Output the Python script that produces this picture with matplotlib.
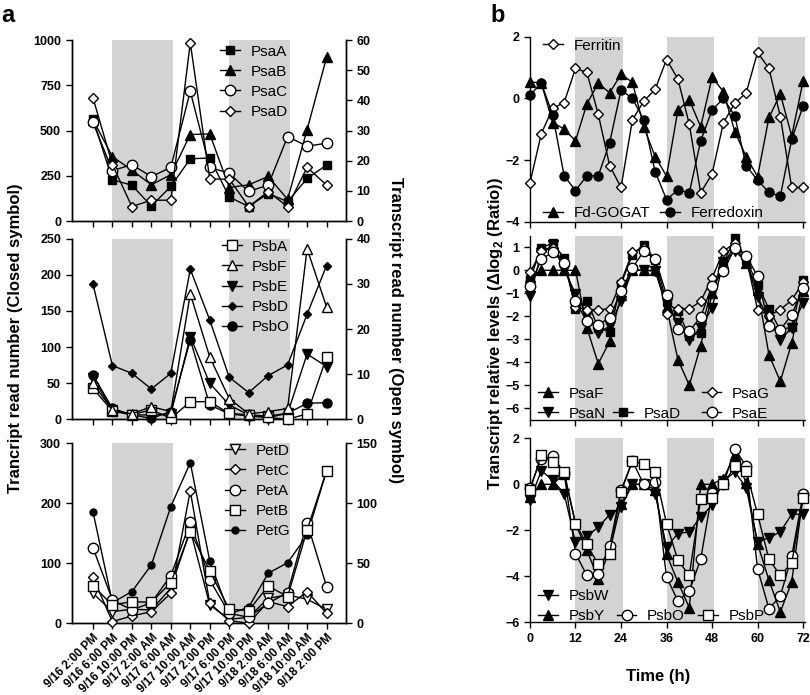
import matplotlib
matplotlib.use('Agg')
import matplotlib.pyplot as plt
from matplotlib.lines import Line2D
from matplotlib.legend import Legend

plt.rcParams['font.family'] = ['Liberation Sans', 'DejaVu Sans']
plt.rcParams['font.weight'] = 'bold'
plt.rcParams['mathtext.fontset'] = 'custom'
plt.rcParams['mathtext.rm'] = 'Liberation Sans:bold'
plt.rcParams['mathtext.bf'] = 'Liberation Sans:bold'
plt.rcParams['axes.linewidth'] = 1.0

# ---------------- panel a data (13 sampling times) ----------------
times = ['9/16 2:00 PM', '9/16 6:00 PM', '9/16 10:00 PM', '9/17 2:00 AM', '9/17 6:00 AM',
         '9/17 10:00 AM', '9/17 2:00 PM', '9/17 6:00 PM', '9/17 10:00 PM', '9/18 2:00 AM',
         '9/18 6:00 AM', '9/18 10:00 AM', '9/18 2:00 PM']

# closed symbols -> left axis, open symbols -> right axis
psaA = [565, 228, 198, 83, 191, 344, 348, 133, 80, 152, 107, 235, 309]
psaB = [560, 356, 281, 200, 256, 478, 481, 185, 200, 246, 120, 505, 904]
psaC = [32.7, 16.7, 18.7, 14.7, 17.8, 43, 17.8, 15.8, 9.8, 11.9, 28, 24.8, 25.8]
psaD = [40.9, 18.7, 4.8, 6.9, 6.9, 59.1, 13.9, 13.9, 4.8, 9.7, 4.8, 17.8, 11.9]

psbA = [6.9, 1.8, 1.0, 2.1, 0.2, 3.9, 3.9, 1.3, 1.0, 0.4, 0, 1.2, 13.8]
psbF = [8, 2, 1.2, 2.8, 1.7, 27.8, 13.8, 4.6, 1.2, 1.7, 2.4, 37.8, 24.9]
psbE = [57, 12.9, 6, 6, 7.4, 114.5, 49.9, 19.9, 6, 4.6, 8.3, 90.5, 73]
psbD = [187.5, 74.4, 63.7, 42, 63.7, 207.8, 137.6, 58.2, 37, 60.5, 75.3, 145.5, 213]
psbO = [61.4, 15.2, 6, 1.4, 10.6, 110, 19.9, 7.4, 4.6, 2.3, 8.3, 22.2, 23]

petD = [25, 9.7, 11.7, 11.1, 29.2, 77.8, 15.3, 3.3, 5, 20.8, 23.6, 20, 11.7]
petC = [38.3, 1.4, 6.1, 9.7, 25, 110.3, 16.7, 2.2, 0, 18, 13.9, 26.4, 8.3]
petA = [63, 19.4, 11.1, 17.2, 39.7, 84.2, 36.1, 8.3, 5, 16.7, 25.6, 83.9, 30.6]
petB = [31.1, 15.3, 18, 17.5, 33.9, 76.4, 43.6, 11.7, 10.6, 31.1, 22.2, 77.8, 127]
petG = [186, 34.4, 52.8, 97.2, 194.4, 267.8, 103.9, 15.6, 26.7, 83.3, 101, 146.7, 254]

# ---------------- panel b data (every 3 h) ----------------
hours = [0, 3, 6, 9, 12, 15, 18, 21, 24, 27, 30, 33, 36, 39, 42, 45, 48, 51, 54, 57, 60, 63, 66, 69, 72]

ferritin = [-2.74, -1.14, -0.32, -0.14, 0.97, 0.84, -0.52, -2.18, -2.89, -0.70, -0.09, 0.29, 1.26,
            0.63, -0.84, -3.06, -2.45, -0.79, -0.16, 0.18, 1.49, 0.97, -0.59, -2.89, -2.89]
fdgogat = [0.54, 0.49, -0.79, -0.99, -1.38, -0.18, 0.49, 0.18, 0.78, 0.52, -0.92, -1.89, -2.52,
           -0.38, -0.05, -0.92, 0.68, 0.22, -1.08, -1.89, -2.54, -0.62, 0.14, -1.22, 0.56]
ferredoxin = [0.11, 0.49, -0.54, -2.51, -2.99, -2.51, -2.51, -1.44, 0.27, 0.0, -0.70, -2.38, -3.28,
              -2.97, -3.06, -1.38, -0.38, 0.0, -0.57, -2.19, -2.65, -3.05, -3.17, -1.33, -0.25]

psaF = [-0.3, 0, 0, 0, 0, -2.5, -4.06, -3.09, -1.06, 0, 0, 0, -1.6, -3.88, -5.0, -3.28, -1.0,
        0.3, 1.04, 0.32, -0.84, -3.67, -4.83, -3.16, -0.91]
psaN = [-1.1, 0.75, 1.1, 0.03, -1.01, -1.93, -2.72, -2.43, -1.35, 0.03, 0, -0.04, -1.42, -2.29,
        -3.01, -2.51, -1.64, 0.35, 0.83, 0.39, -1.16, -2.14, -3.04, -2.5, -1.42]
psaD_b = [-0.38, 0.97, 1.19, 0.54, -1.68, -1.32, -2.5, -2.68, -0.6, 0.68, 1.12, 0.45, -1.39, -1.78,
          -2.87, -2.72, -0.7, 0.32, 1.41, 0.45, -0.62, -1.68, -2.6, -2.46, -0.43]
psaG = [-0.09, 0.83, 0.97, 0.35, -1.6, -1.71, -1.71, -1.68, -0.52, 0.8, 0.97, 0.4, -1.88, -1.68,
        -1.68, -1.35, -0.33, 0.83, 1.19, 0.54, -1.71, -1.97, -1.71, -1.3, -0.52]
psaE = [-0.7, 0.49, 0.78, 0.32, -1.35, -2.22, -2.36, -2.07, -0.91, 0.1, 0.83, 0.49, -1.06, -2.55,
        -2.65, -2.03, -0.67, -0.04, 0.97, 0.64, -0.26, -2.43, -2.58, -1.93, -0.77]

psbW = [-0.7, 0.6, 0.17, -0.4, -2.51, -2.26, -1.86, -1.32, -0.99, 0, 0, -0.41, -2.72, -2.14, -2.07,
        -1.42, -0.91, 0.14, 0.54, -0.14, -2.51, -2.32, -2.07, -1.3, -1.3]
psbY = [-0.55, 0, 0, 0.46, -1.71, -2.87, -4.1, -2.9, -0.84, 0, 0, -0.23, -3.04, -4.25, -5.36, 0, 0,
        0.25, 1.26, 0.06, -2.58, -4.17, -5.55, -4.25, -0.48]
psbO_b = [-0.14, 1.12, 1.22, 0.5, -3.01, -3.96, -3.88, -2.68, -0.26, 1.01, 0, 0.1, -4.03, -5.07,
          -4.64, -3.26, -0.38, 0, 1.55, 0.78, -3.67, -5.41, -4.86, -3.13, -0.43]
psbP = [-0.26, 1.29, 0.97, 0.54, -1.71, -2.61, -3.48, -3.01, -0.33, 1.01, 0.87, 0.54, -1.71, -3.3,
        -3.96, -0.62, -0.58, 0, 0.78, 0.58, -1.3, -3.26, -3.96, -3.42, -0.58]

SHADE = '#d3d3d3'
# marker, size, filled
STY = {'sq': ('s', 6, True), 'osq': ('s', 6.5, False), 'tri': ('^', 6.5, True), 'otri': ('^', 7, False),
       'dtri': ('v', 6.5, True), 'odtri': ('v', 7, False), 'oci': ('o', 7.5, False), 'ci': ('o', 6.5, True),
       'sci': ('o', 5, True), 'odi': ('D', 5, False), 'sdi': ('D', 4.2, True)}


def draw(ax, x, y, kind, label):
    m, s, filled = STY[kind]
    fc = 'black' if filled else 'white'
    ln, = ax.plot(x, y, color='black', lw=1, marker=m, ms=s, mfc=fc, mec='black', mew=1,
                  label=label, clip_on=False, zorder=3)
    return ln


def leg(ax, handles, loc, anchor):
    lg = Legend(ax, handles, [h.get_label() for h in handles], loc=loc, bbox_to_anchor=anchor,
                frameon=False, prop={'size': 11, 'weight': 'normal'}, handlelength=1.3,
                handletextpad=0.7, labelspacing=0.4, borderpad=0, borderaxespad=0)
    ax.add_artist(lg)
    return lg


blank = Line2D([], [], color='none', label=' ')

fig = plt.figure(figsize=(8.1, 6.95), dpi=100)

xa = list(range(len(times)))
a_rects = [[0.0883, 0.6820, 0.3389, 0.2604], [0.0883, 0.3967, 0.3389, 0.2597], [0.0883, 0.1032, 0.3389, 0.2590]]
a_sets = [
    ([(psaA, 'sq', 'PsaA', 'L'), (psaB, 'tri', 'PsaB', 'L'), (psaC, 'oci', 'PsaC', 'R'), (psaD, 'odi', 'PsaD', 'R')],
     (0, 1000, [0, 250, 500, 750, 1000]), (0, 60, [0, 10, 20, 30, 40, 50, 60]), (0.541, 0.975)),
    ([(psbA, 'osq', 'PsbA', 'R'), (psbF, 'otri', 'PsbF', 'R'), (psbE, 'dtri', 'PsbE', 'L'),
      (psbD, 'sdi', 'PsbD', 'L'), (psbO, 'ci', 'PsbO', 'L')],
     (0, 250, [0, 50, 100, 150, 200, 250]), (0, 40, [0, 10, 20, 30, 40]), (0.547, 0.995)),
    ([(petD, 'odtri', 'PetD', 'R'), (petC, 'odi', 'PetC', 'R'), (petA, 'oci', 'PetA', 'R'),
      (petB, 'osq', 'PetB', 'R'), (petG, 'sci', 'PetG', 'L')],
     (0, 300, [0, 100, 200, 300]), (0, 150, [0, 50, 100, 150]), (0.559, 0.998)),
]

for i, (rect, (series, lft, rgt, lpos)) in enumerate(zip(a_rects, a_sets)):
    ax = fig.add_axes(rect)
    ax2 = ax.twinx()
    ax.axvspan(1, 4.1, color=SHADE, lw=0, zorder=0)
    ax.axvspan(7, 10.1, color=SHADE, lw=0, zorder=0)
    handles = []
    for vals, kind, name, side in series:
        handles.append(draw(ax if side == 'L' else ax2, xa, vals, kind, name))
    ax.set_xlim(-1.1, 13)
    ax.set_ylim(lft[0], lft[1])
    ax.set_yticks(lft[2])
    ax2.set_ylim(rgt[0], rgt[1])
    ax2.set_yticks(rgt[2])
    ax.set_xticks(xa)
    for a in (ax, ax2):
        a.spines['top'].set_visible(False)
        a.tick_params(direction='out', length=4, width=1, labelsize=9)
    if i == 2:
        ax.set_xticklabels(times, rotation=45, ha='right', rotation_mode='anchor', fontsize=8.5)
        ax.tick_params(axis='x', pad=2)
    else:
        ax.set_xticklabels([])
    leg(ax2, handles, 'upper left', lpos)

# ---------------- panel b ----------------
b_rects = [[0.6543, 0.6810, 0.3395, 0.2662], [0.6543, 0.3960, 0.3395, 0.2647], [0.6543, 0.1046, 0.3395, 0.2647]]
axes_b = [fig.add_axes(r) for r in b_rects]
for ax in axes_b:
    for s0, s1 in [(12, 24.5), (36, 48.5), (60, 72.5)]:
        ax.axvspan(s0, s1, color=SHADE, lw=0, zorder=0)
    ax.set_xlim(0, 72.5)
    ax.set_xticks([0, 12, 24, 36, 48, 60, 72])
    ax.spines['top'].set_visible(False)
    ax.spines['right'].set_visible(False)
    ax.tick_params(direction='out', length=4, width=1, labelsize=9)

ax = axes_b[0]
h_fer = draw(ax, hours, ferritin, 'odi', 'Ferritin')
h_fd = draw(ax, hours, fdgogat, 'tri', 'Fd-GOGAT')
h_fx = draw(ax, hours, ferredoxin, 'ci', 'Ferredoxin')
ax.set_ylim(-4, 2)
ax.set_yticks([-4, -2, 0, 2])
ax.set_xticklabels([])
leg(ax, [h_fer], 'upper left', (0.047, 0.99))
leg(ax, [h_fd], 'lower left', (0.047, 0.01))
leg(ax, [h_fx], 'lower left', (0.472, 0.01))

ax = axes_b[1]
h1 = draw(ax, hours, psaF, 'tri', 'PsaF')
h2 = draw(ax, hours, psaN, 'dtri', 'PsaN')
h3 = draw(ax, hours, psaD_b, 'sq', 'PsaD')
h4 = draw(ax, hours, psaG, 'odi', 'PsaG')
h5 = draw(ax, hours, psaE, 'oci', 'PsaE')
ax.set_ylim(-6.5, 1.5)
ax.set_yticks([-6, -5, -4, -3, -2, -1, 0, 1])
ax.set_xticklabels([])
leg(ax, [h1, h2], 'lower left', (0.029, -0.005))
leg(ax, [blank, h3], 'lower left', (0.302, -0.005))
leg(ax, [h4, h5], 'lower left', (0.624, -0.005))

ax = axes_b[2]
g1 = draw(ax, hours, psbW, 'dtri', 'PsbW')
g2 = draw(ax, hours, psbY, 'tri', 'PsbY')
g3 = draw(ax, hours, psbO_b, 'oci', 'PsbO')
g4 = draw(ax, hours, psbP, 'osq', 'PsbP')
ax.set_ylim(-6, 2)
ax.set_yticks([-6, -4, -2, 0, 2])
leg(ax, [g1, g2], 'lower left', (0.029, -0.005))
leg(ax, [blank, g3], 'lower left', (0.315, -0.005))
leg(ax, [blank, g4], 'lower left', (0.611, -0.005))

# ---------------- labels ----------------
fig.text(658 / 810, 1 - 677 / 695, 'Time (h)', ha='center', va='center', fontsize=12)
fig.text(16 / 810, 1 - 338 / 695, 'Trancript read number (Closed symbol)', rotation=90,
         ha='center', va='center', fontsize=12)
fig.text(395 / 810, 1 - 330 / 695, 'Transcript read number (Open symbol)', rotation=270,
         ha='center', va='center', fontsize=12)
fig.text(495 / 810, 1 - 333 / 695, r'Transcript relative levels ($\Delta$log$_2$ (Ratio))', rotation=90,
         ha='center', va='center', fontsize=12)
fig.text(8 / 810, 1 - 16 / 695, 'a', ha='center', va='center', fontsize=17)
fig.text(498 / 810, 1 - 16 / 695, 'b', ha='center', va='center', fontsize=17)

fig.savefig('out.png', dpi=100)
